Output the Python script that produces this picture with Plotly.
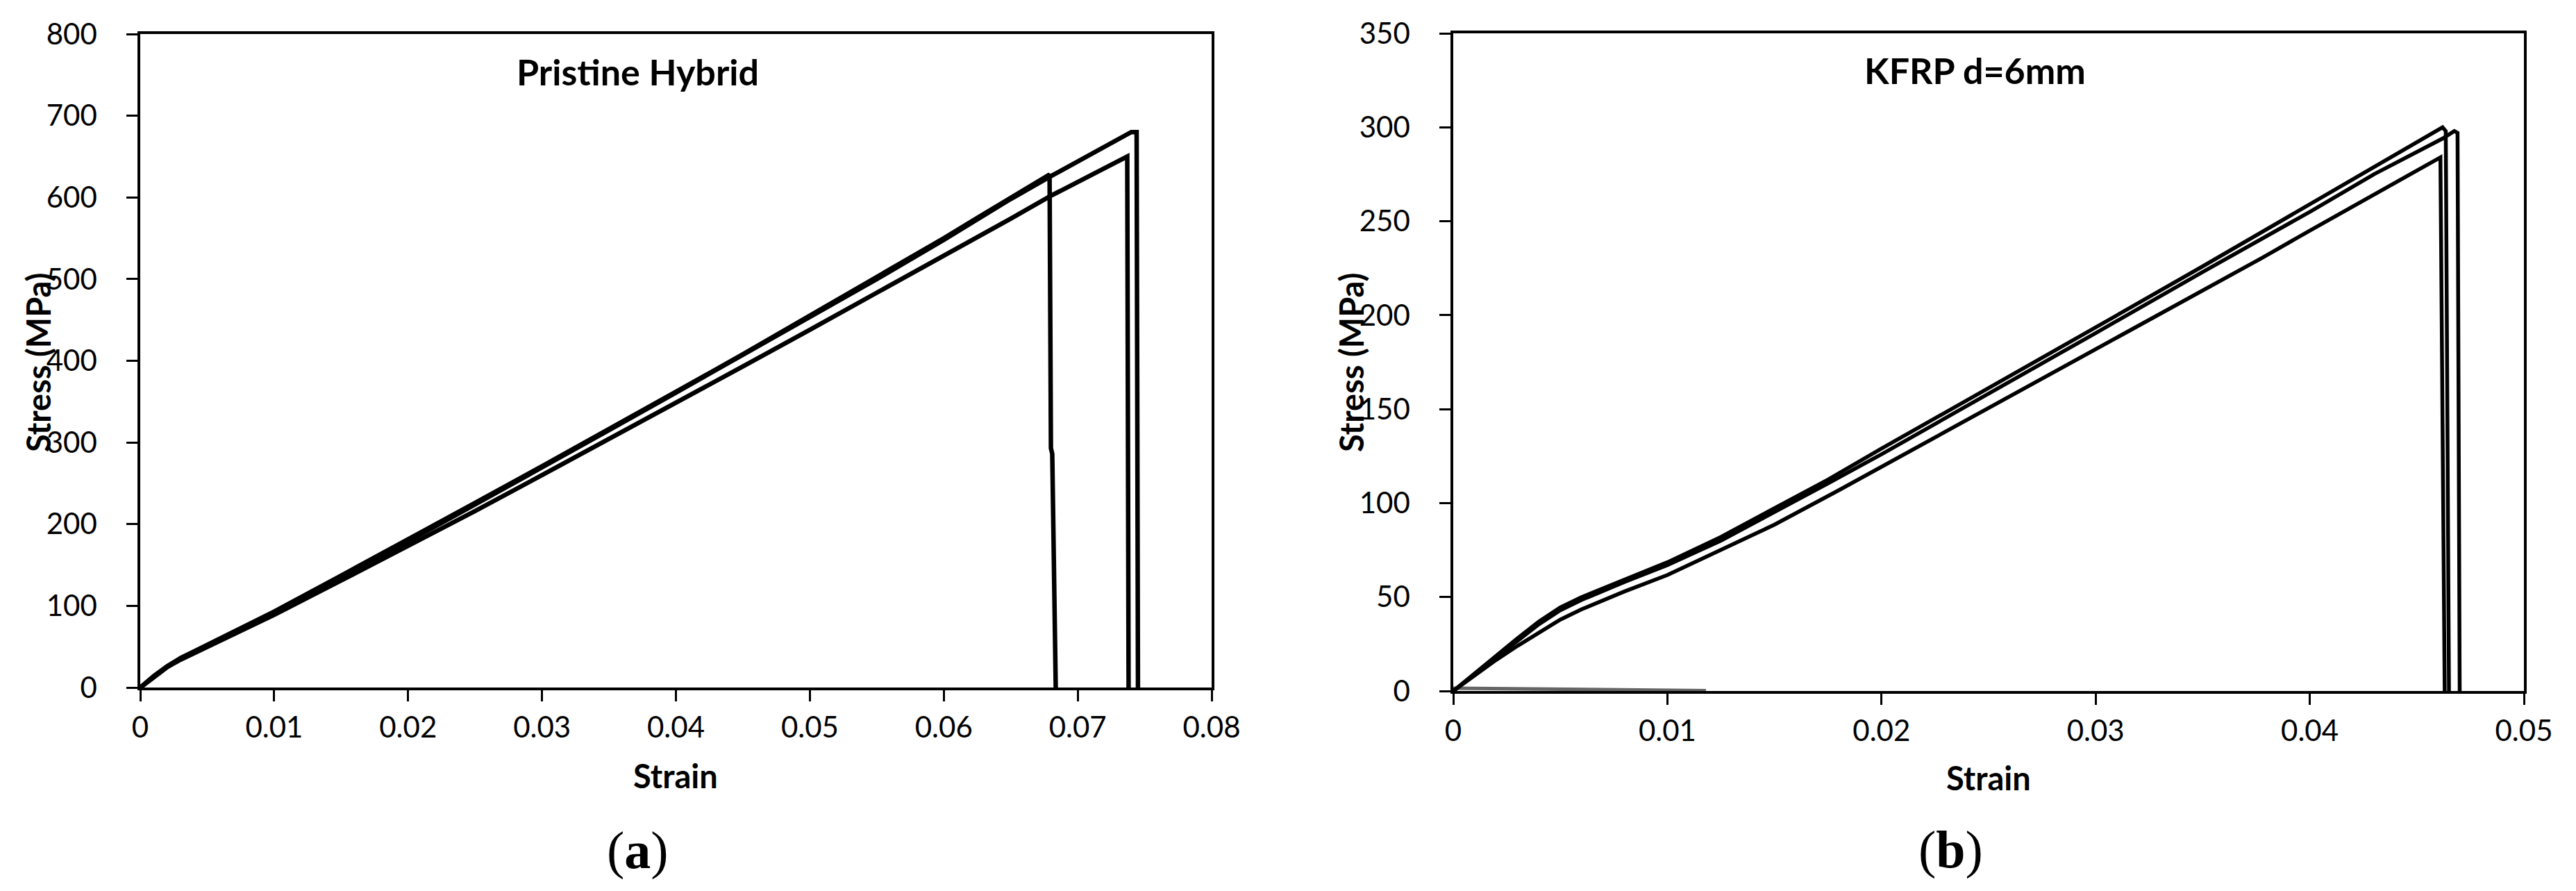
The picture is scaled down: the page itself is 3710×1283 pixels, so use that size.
import plotly.graph_objects as go

W, H = 3710, 1283

# (a) Pristine Hybrid - three specimens
ph1_strain = [0, 0.001, 0.002, 0.003, 0.004, 0.006, 0.008, 0.01, 0.015, 0.02, 0.025, 0.03, 0.035,
              0.04, 0.045, 0.05, 0.055, 0.06, 0.0625, 0.065, 0.0679, 0.0680, 0.0681, 0.06836]
ph1_stress = [0, 14, 26, 36, 44, 60, 76, 93, 137, 181, 226, 271, 316,
              362, 408, 455, 502, 550, 575, 600, 628, 293, 286, 0]

ph2_strain = [0, 0.001, 0.002, 0.003, 0.004, 0.006, 0.008, 0.01, 0.015, 0.02, 0.025, 0.03, 0.035,
              0.04, 0.045, 0.05, 0.055, 0.06, 0.065, 0.068, 0.071, 0.0740, 0.0744, 0.0745]
ph2_stress = [0, 13, 25, 35, 43, 58, 75, 92, 135, 179, 224, 269, 315,
              361, 407, 453, 500, 548, 598, 626, 653, 680, 680, 0]

ph3_strain = [0, 0.001, 0.002, 0.003, 0.004, 0.006, 0.008, 0.01, 0.015, 0.02, 0.025, 0.03, 0.035,
              0.04, 0.045, 0.05, 0.055, 0.06, 0.0625, 0.065, 0.068, 0.071, 0.0737, 0.0738]
ph3_stress = [0, 13, 25, 34, 42, 57, 73, 89, 131, 173, 216, 260, 304,
              348, 393, 438, 483, 528, 551, 574, 602, 627, 650, 0]

# (b) KFRP d=6mm - three specimens + unloading trace near zero
kf1_strain = [0, 0.001, 0.002, 0.003, 0.004, 0.005, 0.006, 0.008, 0.01, 0.0125, 0.015, 0.0175,
              0.02, 0.025, 0.03, 0.035, 0.04, 0.043, 0.0462, 0.04635, 0.0465]
kf1_stress = [0, 9.5, 19, 28, 37, 44.5, 50, 59.5, 68.5, 82, 97, 112.5,
              129, 161, 193.5, 226, 259, 279, 300, 298, 0]

kf2_strain = [0, 0.001, 0.002, 0.003, 0.004, 0.005, 0.006, 0.008, 0.01, 0.0125, 0.015, 0.0175,
              0.02, 0.025, 0.03, 0.035, 0.04, 0.043, 0.0462, 0.04675, 0.0469, 0.0470]
kf2_stress = [0, 9, 18, 27, 35.5, 43, 48.5, 58, 67, 80, 95, 110.5,
              126, 158, 190.5, 223, 255, 275, 294, 298, 297, 0]

kf3_strain = [0, 0.001, 0.002, 0.003, 0.004, 0.005, 0.006, 0.008, 0.01, 0.0125, 0.015, 0.018,
              0.02, 0.025, 0.03, 0.035, 0.0378, 0.04, 0.043, 0.0461, 0.0463]
kf3_stress = [0, 8.5, 16.5, 24, 31, 38, 43.5, 53, 61.7, 75, 88.5, 106.8,
              119.3, 150.6, 181.9, 213.2, 230.7, 245, 264, 284, 0]

kf_tail_strain = [0, 0.004, 0.008, 0.0118]
kf_tail_stress = [1.5, 1.0, 0.6, 0.2]

panel_titles = ['Pristine Hybrid', 'KFRP d=6mm']
panel_labels = ['(<b>a</b>)', '(<b>b</b>)']


def px(x):
    return x / W


def py(y):
    return 1 - y / H


TICK_FONT = dict(family='Lato, Carlito, sans-serif', size=42, color='black')
TITLE_FONT = dict(family='Lato, Carlito, sans-serif', size=47, color='black')

fig = go.Figure()

for xs, ys in [(ph1_strain, ph1_stress), (ph2_strain, ph2_stress), (ph3_strain, ph3_stress)]:
    fig.add_trace(go.Scatter(x=xs, y=ys, mode='lines', xaxis='x', yaxis='y',
                             line=dict(color='black', width=6.5), showlegend=False))

fig.add_trace(go.Scatter(x=kf_tail_strain, y=kf_tail_stress, mode='lines', xaxis='x2', yaxis='y2',
                         line=dict(color='#666666', width=5), showlegend=False))
for xs, ys in [(kf1_strain, kf1_stress), (kf2_strain, kf2_stress), (kf3_strain, kf3_stress)]:
    fig.add_trace(go.Scatter(x=xs, y=ys, mode='lines', xaxis='x2', yaxis='y2',
                             line=dict(color='black', width=5.5), showlegend=False))

axis_common = dict(showgrid=False, zeroline=False, showline=True, linecolor='black', linewidth=3.5,
                   mirror=True, ticks='outside', tickcolor='black', tickwidth=3, ticklen=16,
                   tickfont=TICK_FONT, automargin=False)

fig.update_layout(
    width=W, height=H,
    margin=dict(l=0, r=0, t=0, b=0),
    paper_bgcolor='white', plot_bgcolor='white',
    xaxis=dict(domain=[px(194), px(1737)], range=[0, 0.08], dtick=0.01, anchor='y',
               ticklabelstandoff=2, **axis_common),
    yaxis=dict(domain=[py(982), py(41)], range=[0, 800], dtick=100, anchor='x',
               ticklabelstandoff=34, **axis_common),
    xaxis2=dict(domain=[px(2085), px(3627)], range=[0, 0.05], dtick=0.01, anchor='y2',
                ticklabelstandoff=2, **axis_common),
    yaxis2=dict(domain=[py(987), py(40)], range=[0, 350], dtick=50, anchor='x2',
                ticklabelstandoff=34, **axis_common),
)

annotations = []
# axis titles
for xc, yc in [(47, 514), (1938, 514)]:
    annotations.append(dict(text='<b>Stress (MPa)</b>', x=px(xc), y=py(yc), xref='paper', yref='paper',
                            showarrow=False, textangle=-90, font=TITLE_FONT,
                            xanchor='center', yanchor='middle'))
for xc, yc in [(965, 1109), (2856, 1112)]:
    annotations.append(dict(text='<b>Strain</b>', x=px(xc), y=py(yc), xref='paper', yref='paper',
                            showarrow=False, font=TITLE_FONT, xanchor='center', yanchor='middle'))
# panel titles inside plots
for (xc, yc), t in zip([(910, 95), (2836, 93)], panel_titles):
    annotations.append(dict(text='<b>%s</b>' % t, x=px(xc), y=py(yc), xref='paper', yref='paper',
                            showarrow=False, font=dict(family='Lato, Carlito, sans-serif', size=52, color='black'),
                            xanchor='center', yanchor='middle'))
# (a) / (b)
for (xc, yc), t in zip([(910, 1216), (2801, 1215)], panel_labels):
    annotations.append(dict(text=t, x=px(xc), y=py(yc), xref='paper', yref='paper', showarrow=False,
                            font=dict(family='Liberation Serif, serif', size=76, color='black'),
                            xanchor='center', yanchor='middle'))

fig.update_layout(annotations=annotations)

fig.write_html("out.html")
